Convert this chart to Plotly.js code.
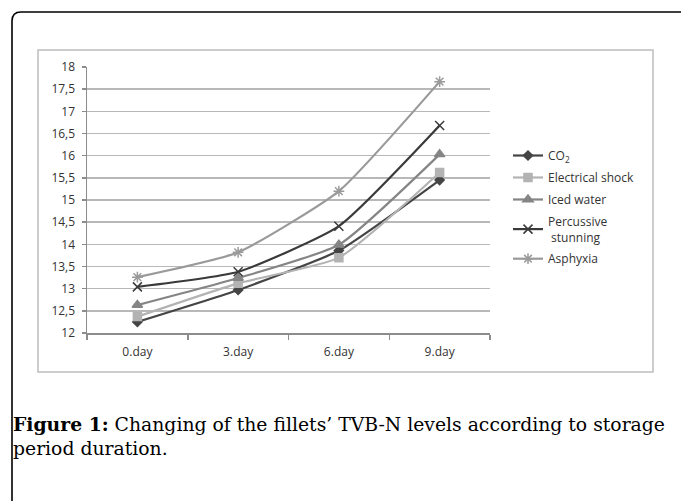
<!DOCTYPE html>
<html>
<head>
<meta charset="utf-8">
<script src="https://cdn.plot.ly/plotly-3.0.1.min.js"></script>
<style>
html,body{margin:0;padding:0;background:#fff;}
#chart{width:681px;height:501px;}
</style>
</head>
<body>
<div id="chart"></div>
<script>
// ---- data ----
const days = ["0.day", "3.day", "6.day", "9.day"];
const co2 = [12.25, 12.97, 13.86, 15.45];
const electricalShock = [12.37, 13.12, 13.70, 15.62];
const icedWater = [12.63, 13.24, 13.99, 16.03];
const percussiveStunning = [13.04, 13.38, 14.41, 16.68];
const asphyxia = [13.26, 13.82, 15.20, 17.67];
const seriesNames = ["CO<sub>2</sub>", "Electrical shock", "Iced water", "Percussive<br> stunning", "Asphyxia"];
const yTicks = [12, 12.5, 13, 13.5, 14, 14.5, 15, 15.5, 16, 16.5, 17, 17.5, 18];

// ---- geometry helpers (pixel -> paper) ----
const W = 681, H = 501;
const L = 87, R = 490, T = 67, B = 333;
const px = v => (v - L) / (R - L);
const py = v => (B - v) / (B - T);

const styles = [
  {color: "#454545", symbol: "diamond", size: 7},
  {color: "#b3b3b3", symbol: "square", size: 8},
  {color: "#858585", symbol: "triangle-up", size: 9},
  {color: "#3a3a3a", symbol: "x-thin-open", size: 9},
  {color: "#9a9a9a", symbol: "asterisk-open", size: 9}
];
const values = [co2, electricalShock, icedWater, percussiveStunning, asphyxia];

const traces = values.map((v, i) => ({
  type: "scatter",
  mode: "lines+markers",
  x: days,
  y: v,
  name: seriesNames[i],
  legendgroup: "g" + i,
  line: {color: styles[i].color, width: 2.2, shape: "spline", smoothing: 0.5},
  marker: {color: styles[i].color, symbol: styles[i].symbol, size: styles[i].size,
           line: {color: styles[i].color, width: 1.5}}
}));

const outer = "M " + px(12) + "," + py(510) + " L " + px(12) + "," + py(21) +
  " Q " + px(12) + "," + py(12) + " " + px(21) + "," + py(12) + " L " + px(700) + "," + py(12);

const tickFont = {family: "Open Sans, sans-serif", size: 12, color: "#333333"};

const layout = {
  width: W, height: H,
  margin: {l: L, r: W - R, t: T, b: H - B, pad: 0},
  paper_bgcolor: "rgba(0,0,0,0)",
  plot_bgcolor: "rgba(0,0,0,0)",
  separators: ", ",
  font: {family: "Open Sans, sans-serif", size: 12, color: "#333333"},
  showlegend: true,
  legend: {
    x: px(508), y: py(141), xanchor: "left", yanchor: "top",
    font: {family: "Open Sans, sans-serif", size: 12, color: "#333333"},
    itemwidth: 30, tracegroupgap: 3, bgcolor: "rgba(0,0,0,0)"
  },
  xaxis: {
    type: "category", range: [-0.5, 3.5],
    showgrid: false, zeroline: false,
    showline: true, linecolor: "#8c8c8c", linewidth: 1.5,
    ticks: "outside", tickson: "boundaries", ticklen: 5, tickcolor: "#8c8c8c", tickwidth: 1.5,
    ticklabelstandoff: 7,
    tickfont: tickFont,
    fixedrange: true
  },
  yaxis: {
    range: [12, 18], tickvals: yTicks,
    showgrid: true, gridcolor: "#b8b8b8", gridwidth: 1.5,
    zeroline: false,
    showline: true, linecolor: "#8c8c8c", linewidth: 1.5,
    ticks: "outside", ticklen: 4, tickcolor: "#8c8c8c", tickwidth: 1.5,
    ticklabelstandoff: 4,
    tickfont: tickFont,
    fixedrange: true
  },
  shapes: [
    {type: "path", xref: "paper", yref: "paper", path: outer,
     line: {color: "#000", width: 1.6}, layer: "below"},
    {type: "rect", xref: "paper", yref: "paper",
     x0: px(38), x1: px(653), y0: py(372), y1: py(50),
     line: {color: "#bdbdbd", width: 1.5}, layer: "below"}
  ],
  annotations: [
    {xref: "paper", yref: "paper", x: px(11), y: py(424), xanchor: "left", yanchor: "middle",
     showarrow: false, align: "left",
     font: {family: "DejaVu Serif, serif", size: 18.8, color: "#000"},
     text: "<b>Figure 1:</b> Changing of the fillets’ TVB-N levels according to storage"},
    {xref: "paper", yref: "paper", x: px(11), y: py(448), xanchor: "left", yanchor: "middle",
     showarrow: false, align: "left",
     font: {family: "DejaVu Serif, serif", size: 18.8, color: "#000"},
     text: "period duration."}
  ]
};

Plotly.newPlot("chart", traces, layout, {displayModeBar: false, staticPlot: true});
</script>
</body>
</html>
